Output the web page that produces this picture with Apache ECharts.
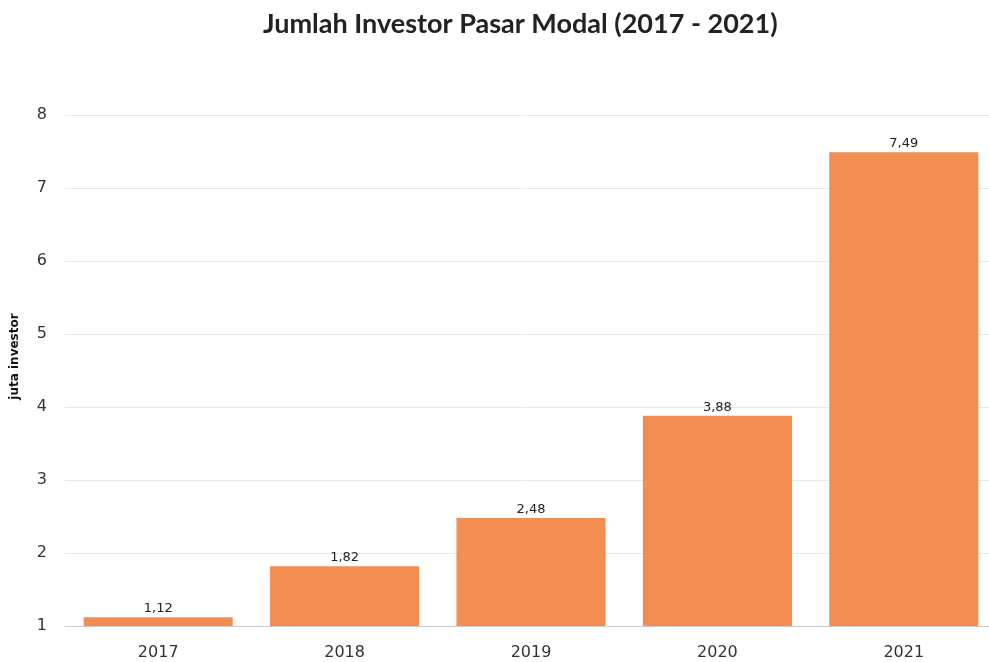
<!DOCTYPE html>
<html>
<head>
<meta charset="utf-8">
<script src="https://cdn.jsdelivr.net/npm/echarts@6/dist/echarts.min.js"></script>
<style>
html,body{margin:0;padding:0;background:#fff;}
#chart{width:989px;height:662px;}
</style>
</head>
<body>
<div id="chart"></div>
<script>
const categories = ['2017', '2018', '2019', '2020', '2021'];
const investors = [1.12, 1.82, 2.48, 3.88, 7.49];
const yTicks = [1, 2, 3, 4, 5, 6, 7, 8];

const chart = echarts.init(document.getElementById('chart'));
chart.setOption({
  animation: false,
  title: {
    text: 'Jumlah Investor Pasar Modal (2017 - 2021)',
    left: 258,
    top: 6,
    textStyle: { fontFamily: 'Lato', fontSize: 27, fontWeight: 'bold', color: '#222' }
  },
  grid: { left: 65, width: 932, top: 115, height: 511, outerBoundsMode: 'none', containLabel: false },
  xAxis: {
    type: 'category',
    data: categories,
    axisLine: { lineStyle: { color: '#ccc' } },
    axisTick: { alignWithLabel: true, length: 6, lineStyle: { color: '#ccc' } },
    axisLabel: { fontFamily: 'DejaVu Sans', fontSize: 16, color: '#333', margin: 19 }
  },
  yAxis: {
    type: 'value',
    min: yTicks[0],
    max: yTicks[yTicks.length - 1],
    interval: 1,
    name: 'juta investor',
    nameLocation: 'middle',
    nameRotate: 90,
    nameGap: 44,
    nameTextStyle: { fontFamily: 'DejaVu Sans', fontSize: 12, fontWeight: 'bold', color: '#111', padding: [0, 0, 0, 28] },
    axisLine: { show: false },
    axisTick: { show: false },
    splitLine: { lineStyle: { color: '#e8e8e8' } },
    axisLabel: { fontFamily: 'DejaVu Sans', fontSize: 16, color: '#333', margin: 18 }
  },
  series: [{
    type: 'bar',
    data: investors,
    barCategoryGap: '20%',
    itemStyle: { color: '#f48d52' },
    label: {
      show: true,
      position: 'top',
      distance: 2,
      fontFamily: 'DejaVu Sans',
      fontSize: 13,
      color: '#222',
      formatter: p => p.value.toFixed(2).replace('.', ',')
    }
  }]
});
</script>
</body>
</html>
